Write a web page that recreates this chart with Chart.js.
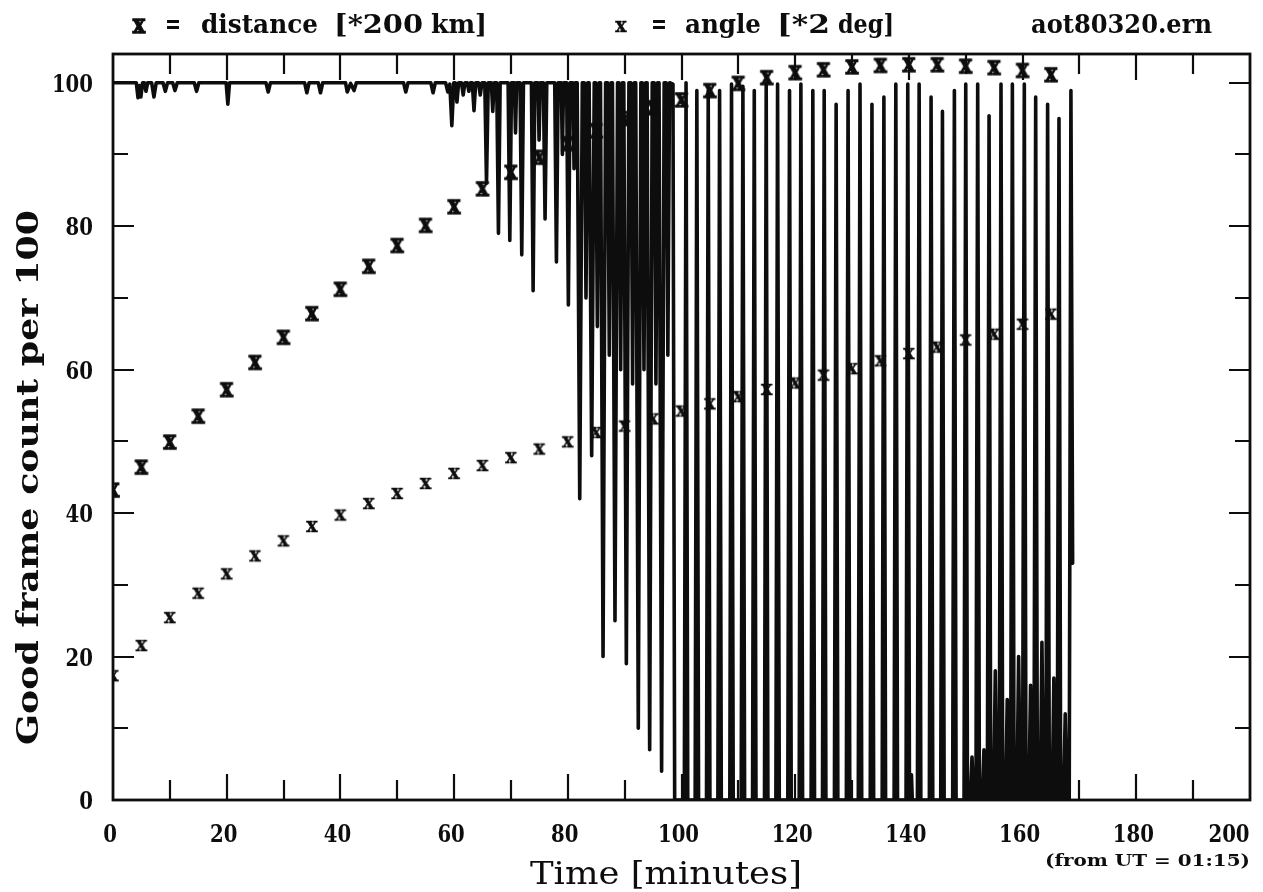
<!DOCTYPE html>
<html>
<head>
<meta charset="utf-8">
<title>aot80320.ern</title>
<script src="https://cdn.jsdelivr.net/npm/chart.js@4.4.1/dist/chart.umd.min.js"></script>
<style>
  html, body { margin: 0; padding: 0; background: #fff; }
  #wrap { width: 1263px; height: 892px; }
</style>
</head>
<body>
<div id="wrap"><canvas id="frameChart" width="1263" height="892"></canvas></div>
<script>
// good frame count per 100, as [minutes, count] vertices of the trace
// quiet part: sits at 100 with a few shallow dropouts
const quietTrace = [
    [0, 100],
    [4.1, 100], [4.4, 97.9], [4.65, 99.6], [4.9, 98.0], [5.2, 100],
    [5.5, 100], [5.8, 98.8], [6.1, 100],
    [6.8, 100], [7.2, 98.0], [7.6, 100],
    [8.8, 100], [9.2, 98.8], [9.6, 100],
    [10.5, 100], [10.9, 98.9], [11.3, 100],
    [14.3, 100], [14.7, 98.8], [15.1, 100],
    [19.9, 100], [20.2, 97.0], [20.5, 100],
    [26.9, 100], [27.3, 98.7], [27.7, 100],
    [33.7, 100], [34.1, 98.6], [34.5, 100],
    [36.1, 100], [36.5, 98.6], [36.9, 100],
    [40.9, 100], [41.2, 98.7], [41.8, 99.9], [42.4, 98.9], [42.8, 100],
    [51.1, 100], [51.5, 98.7], [51.9, 100],
    [55.9, 100], [56.3, 98.6], [56.7, 100],
    [58.5, 100], [58.9, 98.7], [59.25, 99.8], [59.6, 94.0], [59.95, 100],
    [60.2, 100], [60.5, 97.3], [60.8, 100],
    [61.3, 100], [61.6, 98.3], [61.9, 100],
    [62.3, 100], [62.6, 98.8], [62.9, 100],
    [63.2, 100], [63.5, 96.1], [63.8, 100],
    [64.3, 100], [64.6, 98.3], [64.9, 100]
];

// fading part: dropouts every ~2 minutes getting deeper
const fadeTrace = [
    [65.4, 100], [65.7, 86], [66.0, 100],
    [66.55, 100], [66.8, 96], [67.05, 100],
    [67.5, 100], [67.8, 79], [68.1, 100],
    [69.5, 100], [69.8, 78], [70.1, 100],
    [70.6, 100], [70.8, 93], [71.0, 100],
    [71.6, 100], [71.9, 76], [72.2, 100],
    [73.6, 100], [73.9, 71], [74.2, 100],
    [74.75, 100], [74.95, 92], [75.15, 100],
    [75.7, 100], [76.0, 81], [76.3, 100],
    [77.7, 100], [78.0, 75], [78.3, 100],
    [78.85, 100], [79.05, 90], [79.25, 100],
    [79.8, 100], [80.1, 69], [80.4, 100],
    [80.9, 100], [81.1, 88], [81.3, 100],
    [81.65, 100], [82.1, 42], [82.55, 100],
    [82.9, 100], [83.2, 70], [83.5, 100],
    [83.75, 100], [84.2, 48], [84.65, 100],
    [84.9, 100], [85.2, 66], [85.5, 100],
    [85.75, 100], [86.2, 20], [86.65, 100],
    [87.0, 100], [87.3, 62], [87.6, 100],
    [87.85, 100], [88.3, 25], [88.75, 100],
    [89.0, 100], [89.3, 60], [89.6, 100],
    [89.85, 100], [90.3, 19], [90.75, 100],
    [91.1, 100], [91.4, 58], [91.7, 100],
    [91.95, 100], [92.4, 10], [92.85, 100],
    [93.1, 100], [93.4, 60], [93.7, 100],
    [93.95, 100], [94.4, 7], [94.85, 100],
    [95.2, 100], [95.5, 58], [95.8, 100],
    [96.05, 100], [96.5, 4], [96.95, 100],
    [97.3, 100], [97.6, 62], [97.9, 100],
    [98.5, 99.8], [98.8, 0]
];

// dropout part: mostly lost, short bursts of good frames
const dropoutTrace = [
    [100.5, 0], [100.8, 100], [101.1, 0],
    [102.4, 0], [102.7, 98.9], [103.0, 0],
    [104.4, 0], [104.7, 98.9], [105.0, 0],
    [106.4, 0], [106.7, 98.9], [107.0, 0],
    [108.5, 0], [108.8, 99.8], [109.1, 0],
    [110.5, 0], [110.8, 99.5], [111.1, 0],
    [112.5, 0], [112.8, 98.9], [113.1, 0],
    [114.6, 0], [114.9, 100], [115.2, 0],
    [116.6, 0], [116.9, 99.8], [117.2, 0],
    [118.7, 0], [119.0, 98.9], [119.3, 0],
    [120.7, 0], [121.0, 99.8], [121.3, 0],
    [122.8, 0], [123.1, 98.9], [123.4, 0],
    [124.8, 0], [125.1, 98.9], [125.4, 0],
    [126.9, 0], [127.2, 97.0], [127.5, 0],
    [129.0, 0], [129.3, 98.9], [129.6, 0],
    [131.1, 0], [131.4, 99.8], [131.7, 0],
    [133.2, 0], [133.5, 97.0], [133.8, 0],
    [135.3, 0], [135.6, 98.0], [135.9, 0],
    [137.4, 0], [137.7, 99.8], [138.0, 0],
    [139.5, 0], [139.8, 99.8], [140.1, 0],
    [140.3, 0], [140.45, 3.5], [140.6, 0],
    [141.5, 0], [141.8, 99.8], [142.1, 0],
    [143.6, 0], [143.9, 98.0], [144.2, 0],
    [145.6, 0], [145.9, 96.0], [146.2, 0],
    [147.7, 0], [148.0, 98.9], [148.3, 0],
    [149.7, 0], [150.0, 99.8], [150.3, 0],
    [150.8, 0], [151.1, 6], [151.4, 0],
    [151.8, 0], [152.1, 99.8], [152.4, 0],
    [152.9, 0], [153.2, 7], [153.5, 0],
    [153.8, 0], [154.1, 95.4], [154.4, 0],
    [154.9, 0], [155.2, 18], [155.5, 0],
    [155.9, 0], [156.2, 99.8], [156.5, 0],
    [157.0, 0], [157.3, 14], [157.6, 0],
    [157.9, 0], [158.2, 99.8], [158.5, 0],
    [159.0, 0], [159.3, 20], [159.6, 0],
    [160.0, 0], [160.3, 99.8], [160.6, 0],
    [161.1, 0], [161.4, 16], [161.7, 0],
    [162.0, 0], [162.3, 98.0], [162.6, 0],
    [163.1, 0], [163.4, 22], [163.7, 0],
    [164.1, 0], [164.4, 97.0], [164.7, 0],
    [165.2, 0], [165.5, 17], [165.8, 0],
    [166.1, 0], [166.4, 95.0], [166.7, 0],
    [167.2, 0], [167.5, 12], [167.8, 0],
    [168.2, 0], [168.5, 98.9], [168.8, 33]
];

// cross markers, every 5 minutes
const markMinutes = [0, 5, 10, 15, 20, 25, 30, 35, 40, 45, 50, 55, 60, 65, 70, 75, 80,
    85, 90, 95, 100, 105, 110, 115, 120, 125, 130, 135, 140, 145, 150, 155, 160, 165];
// distance in units of 200 km
const distanceValues = [43.2, 46.4, 49.9, 53.5, 57.2, 61.0, 64.5, 67.8, 71.2, 74.4, 77.3, 80.1, 82.7,
    85.2, 87.5, 89.6, 91.5, 93.3, 95.0, 96.5, 97.6, 98.9, 99.9, 100.7, 101.4, 101.8, 102.2,
    102.4, 102.5, 102.5, 102.3, 102.1, 101.7, 101.1];
// angle in units of 2 deg
const angleValues = [17.4, 21.6, 25.5, 28.9, 31.6, 34.1, 36.2, 38.2, 39.8, 41.4, 42.8, 44.2, 45.6,
    46.7, 47.8, 49.0, 50.0, 51.3, 52.2, 53.2, 54.3, 55.3, 56.3, 57.3, 58.2, 59.3, 60.2,
    61.3, 62.3, 63.2, 64.2, 65.0, 66.4, 67.8];

const xLabels = [0, 20, 40, 60, 80, 100, 120, 140, 160, 180, 200];
const yLabels = [0, 20, 40, 60, 80, 100];

const INK = "#0d0d0d";
const SERIF = '"DejaVu Serif", "Liberation Serif", serif';

function toPoints(pairs) {
    return pairs.map(p => ({ x: p[0], y: p[1] }));
}

// small bitmap with a heavy serif "x", used as the point style
function makeMark(size, squeeze, weight) {
    const c = document.createElement("canvas");
    c.width = 24;
    c.height = 24;
    const g = c.getContext("2d");
    g.translate(12, 12);
    g.scale(squeeze, 1);
    g.font = "bold " + size + "px " + SERIF;
    g.fillStyle = INK;
    g.strokeStyle = INK;
    g.lineWidth = weight;
    g.textAlign = "center";
    g.textBaseline = "alphabetic";
    const m = g.measureText("x");
    const dy = (m.actualBoundingBoxAscent - m.actualBoundingBoxDescent) / 2;
    g.fillText("x", 0, dy);
    g.strokeText("x", 0, dy);
    return c;
}

const boldMark = makeMark(26, 0.8, 1.4);
const lightMark = makeMark(21, 0.9, 0.5);

// draw a string squeezed/stretched to span [left, right]
function fitText(ctx, str, left, right, baseline, font) {
    ctx.font = font;
    const w = ctx.measureText(str).width;
    ctx.save();
    ctx.translate(left, baseline);
    ctx.scale((right - left) / w, 1);
    ctx.textAlign = "left";
    ctx.textBaseline = "alphabetic";
    ctx.fillText(str, 0, 0);
    ctx.restore();
}

function centerText(ctx, str, cx, baseline, font, squeeze) {
    ctx.font = font;
    const w = ctx.measureText(str).width * squeeze;
    fitText(ctx, str, cx - w / 2, cx + w / 2, baseline, font);
}

const boxAndLabels = {
    id: "boxAndLabels",
    afterDraw(chart) {
        const { ctx, chartArea: a, scales: { x, y } } = chart;
        ctx.save();
        ctx.strokeStyle = INK;
        ctx.fillStyle = INK;

        // frame
        ctx.lineWidth = 2.8;
        ctx.strokeRect(a.left, a.top, a.right - a.left, a.bottom - a.top);

        // inward ticks
        ctx.lineWidth = 2.2;
        ctx.beginPath();
        for (let m = 10; m < 200; m += 10) {
            const px = Math.round(x.getPixelForValue(m));
            const len = m % 20 === 0 ? 26 : 20;
            ctx.moveTo(px, a.bottom);
            ctx.lineTo(px, a.bottom - len);
            ctx.moveTo(px, a.top);
            ctx.lineTo(px, a.top + len);
        }
        for (let v = 10; v <= 100; v += 10) {
            const py = Math.round(y.getPixelForValue(v));
            const len = v % 20 === 0 ? 21 : 15;
            ctx.moveTo(a.left, py);
            ctx.lineTo(a.left + len, py);
            ctx.moveTo(a.right, py);
            ctx.lineTo(a.right - len, py);
        }
        ctx.stroke();

        // tick labels
        const tickFont = "bold 24px " + SERIF;
        xLabels.forEach(m => {
            let cx = x.getPixelForValue(m) - 3;
            if (m === 200) cx -= 18;
            centerText(ctx, String(m), cx, 842, tickFont, 0.82);
        });
        yLabels.forEach(v => {
            const py = y.getPixelForValue(v);
            ctx.font = tickFont;
            const w = ctx.measureText(String(v)).width * 0.82;
            fitText(ctx, String(v), 93 - w, 93, py + 9, tickFont);
        });

        // axis titles
        fitText(ctx, "Time [minutes]", 530, 802, 884, "32px " + SERIF);
        fitText(ctx, "(from UT = 01:15)", 1045, 1250, 866, "bold 17px " + SERIF);
        ctx.save();
        ctx.translate(38, 478);
        ctx.rotate(-Math.PI / 2);
        fitText(ctx, "Good frame count per 100", -267, 268, 0, "bold 30px " + SERIF);
        ctx.restore();

        // header line
        const head = "bold 26px " + SERIF;
        ctx.drawImage(boldMark, 139 - 12, 26 - 12);
        fitText(ctx, "=", 165, 181, 33, head);
        fitText(ctx, "distance", 201, 318, 33, head);
        fitText(ctx, "[*200", 334, 423, 33, head);
        fitText(ctx, "km]", 431, 487, 33, head);
        ctx.drawImage(lightMark, 621 - 12, 26 - 12);
        fitText(ctx, "=", 651, 667, 33, head);
        fitText(ctx, "angle", 685, 761, 33, head);
        fitText(ctx, "[*2", 777, 830, 33, head);
        fitText(ctx, "deg]", 838, 894, 33, head);
        fitText(ctx, "aot80320.ern", 1031, 1212, 33, head);

        ctx.restore();
    }
};

const frameTrace = quietTrace.concat(fadeTrace, dropoutTrace);

new Chart(document.getElementById("frameChart"), {
    type: "line",
    data: {
        datasets: [
            {
                label: "good frames",
                data: toPoints(frameTrace),
                borderColor: INK,
                borderWidth: 3.6,
                borderJoinStyle: "round",
                borderCapStyle: "round",
                pointRadius: 0,
                tension: 0,
                fill: false,
                order: 3
            },
            {
                label: "distance",
                data: markMinutes.map((m, i) => ({ x: m, y: distanceValues[i] })),
                showLine: false,
                pointStyle: boldMark,
                pointRadius: 12,
                order: 1
            },
            {
                label: "angle",
                data: markMinutes.map((m, i) => ({ x: m, y: angleValues[i] })),
                showLine: false,
                pointStyle: lightMark,
                pointRadius: 12,
                order: 2
            }
        ]
    },
    options: {
        responsive: false,
        animation: false,
        devicePixelRatio: 1,
        events: [],
        layout: { padding: { left: 113, top: 54, right: 11, bottom: 92 } },
        scales: {
            x: { type: "linear", min: 0, max: 200, display: false },
            y: { type: "linear", min: 0, max: 104, display: false }
        },
        plugins: {
            legend: { display: false },
            tooltip: { enabled: false }
        }
    },
    plugins: [boxAndLabels]
});
</script>
</body>
</html>
